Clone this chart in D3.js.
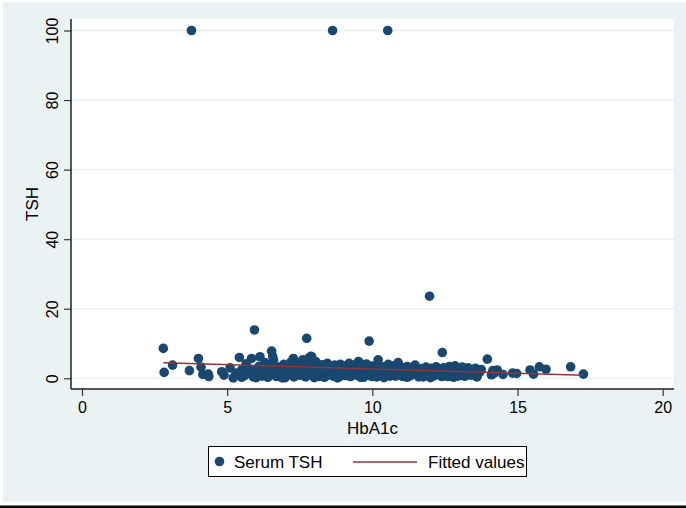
<!DOCTYPE html>
<html><head><meta charset="utf-8">
<script src="https://cdn.jsdelivr.net/npm/d3@7"></script>
<style>html,body{margin:0;padding:0;background:#fff;}svg{display:block;}</style>
</head><body>
<script>
// ---- data ----
const hba1c = [
 3.77,8.63,10.53,11.97,
 2.80,2.83,3.12,3.70,4.01,4.10,4.16,4.35,4.37,4.81,4.89,5.10,5.21,5.42,5.94,5.84,
 6.13,6.53,6.57,7.74,7.91,7.28,9.89,10.2,12.41,10.89,9.52,11.47,
 13.96,14.3,14.97,14.83,15.43,15.75,15.98,15.55,16.83,17.27,
 5.3,5.5,5.6,5.7,5.8,5.9,6.0,5.65,
 6.05,6.1,6.2,6.25,6.3,6.35,6.4,6.45,6.5,6.55,6.6,6.62,6.7,6.75,6.8,6.85,6.9,6.95,6.98,
 7.0,7.05,7.1,7.15,7.2,7.25,7.3,7.35,7.4,7.45,7.5,7.55,7.6,7.62,7.65,7.7,7.75,7.8,7.82,7.85,7.9,7.95,7.98,7.88,7.7,
 8.0,8.05,8.1,8.15,8.2,8.25,8.3,8.35,8.4,8.45,8.5,8.55,8.6,8.65,8.7,8.75,8.8,8.85,8.9,8.95,
 9.0,9.05,9.1,9.15,9.2,9.25,9.3,9.35,9.4,9.45,9.5,9.55,9.6,9.65,9.7,9.75,9.8,9.85,9.9,9.95,
 10.0,10.05,10.1,10.15,10.2,10.25,10.3,10.35,10.4,10.45,10.5,10.55,10.6,10.65,10.7,10.75,10.8,10.85,10.95,
 11.0,11.05,11.1,11.15,11.2,11.25,11.3,11.35,11.4,11.5,11.55,11.6,11.65,11.7,11.75,11.8,11.85,11.9,11.95,
 12.0,12.05,12.1,12.15,12.2,12.25,12.3,12.35,12.4,12.45,12.5,12.55,12.6,12.65,12.7,12.75,12.8,12.85,12.9,12.95,
 13.0,13.05,13.1,13.15,13.2,13.25,13.3,13.4,13.45,13.5,13.55,13.6,13.7,13.75,
 14.1,14.15,14.2,14.5,
 5.5,6.0,6.4,6.9,7.3,7.6,8.0,8.4,8.8,9.2,9.6,10.0,10.4,10.8,11.2,11.6,12.0,12.4,12.8,13.2,13.6,
 6.2,6.7,7.1,7.5,7.9,8.3,8.7,9.1,9.5,9.9,10.3,10.7,11.1,11.5,11.9,12.3,12.7,13.1,13.5
];
const tsh = [
 100,100,100,23.6,
 8.6,1.7,3.8,2.2,5.7,3.2,1.1,1.2,0.5,1.9,0.9,3.0,0.1,6.0,13.9,5.7,
 6.2,7.8,6.2,11.5,6.2,5.7,10.7,5.3,7.4,4.5,4.8,3.8,
 5.5,2.4,1.4,1.5,2.4,3.3,2.6,1.2,3.3,1.2,
 1.5,2.4,0.8,3.1,1.9,0.4,2.6,4.2,
 1.2,3.4,0.6,2.1,4.5,1.6,0.3,2.9,3.8,1.0,5.1,2.4,0.5,1.8,3.2,0.9,2.5,4.0,1.3,
 0.2,2.0,3.6,1.1,4.7,2.8,0.6,1.7,3.3,4.1,0.9,2.2,5.3,1.4,3.0,0.4,2.6,4.4,5.9,1.8,3.7,0.7,2.4,6.3,5.0,
 1.2,4.8,3.1,0.5,2.0,3.9,1.5,0.3,2.7,4.3,1.0,3.4,2.1,0.6,3.8,1.7,2.9,0.4,4.0,1.3,
 2.5,0.8,3.6,1.9,4.3,0.5,2.8,1.4,3.9,0.9,2.2,4.6,1.1,3.2,0.3,2.0,4.1,1.6,2.9,0.7,
 3.5,1.2,2.4,0.4,3.8,1.8,2.7,0.9,3.3,1.5,2.1,4.0,0.6,2.9,1.3,3.6,0.8,2.3,1.7,
 3.1,0.5,2.2,1.1,3.4,1.8,0.7,2.6,1.4,3.0,0.9,2.0,1.2,2.8,0.4,1.9,3.2,1.0,2.4,
 1.5,2.9,0.6,2.1,3.3,1.2,2.5,0.8,1.8,3.0,1.1,2.3,0.5,3.4,1.6,2.6,0.9,3.6,1.9,0.6,
 2.7,1.3,3.2,0.7,2.1,1.5,3.0,0.9,2.4,1.2,2.9,0.5,1.8,2.5,
 1.0,2.2,1.5,1.1,
 0.3,0.2,0.8,0.1,0.4,0.9,0.2,0.6,0.1,0.7,0.3,0.5,0.2,0.6,0.3,0.4,0.2,0.5,0.3,0.6,0.4,
 1.4,2.3,1.6,2.5,1.3,2.2,1.5,2.4,1.2,2.0,1.7,2.3,1.3,1.9,1.6,1.1,1.4,1.2,1.0
];
const fitX = [2.8, 17.27];
const fitY = [4.45, 0.9];
const xTicks = [0,5,10,15,20];
const yTicks = [0,20,40,60,80,100];
const seriesNames = ["Serum TSH","Fitted values"];

// ---- drawing ----
const W = 686, H = 508;
const navy = "#1a476f", maroon = "#90353b", bg = "#eaf2f3";
const font = "'Liberation Sans', Arial, sans-serif";
const svg = d3.select("body").append("svg").attr("width", W).attr("height", H);

svg.append("rect").attr("x",0).attr("y",0).attr("width",W).attr("height",H).attr("fill","#fff");
svg.append("rect").attr("x",3).attr("y",2).attr("width",W-3).attr("height",500).attr("fill",bg);
svg.append("rect").attr("x",0).attr("y",505.5).attr("width",W).attr("height",2.5).attr("fill","#000");

const pL = 71, pR = 674, pT = 19, pB = 389;
svg.append("rect").attr("x",pL).attr("y",pT).attr("width",pR-pL).attr("height",pB-pT).attr("fill","#fff");

const x = d3.scaleLinear().domain([0,20]).range([82, 662.7]);
const y = d3.scaleLinear().domain([0,100]).range([378.3, 30.5]);

// gridlines
svg.append("g").selectAll("line").data(yTicks).join("line")
  .attr("x1",pL).attr("x2",pR).attr("y1",d=>y(d)).attr("y2",d=>y(d))
  .attr("stroke",bg).attr("stroke-width",1.5);

// points
const pts = hba1c.map((v,i)=>[v,tsh[i]]);
svg.append("g").selectAll("circle").data(pts).join("circle")
  .attr("cx",d=>x(d[0])).attr("cy",d=>y(d[1])).attr("r",4.8).attr("fill",navy);

// fitted line
svg.append("path").datum(fitX.map((v,i)=>[v,fitY[i]]))
  .attr("d", d3.line().x(d=>x(d[0])).y(d=>y(d[1])))
  .attr("fill","none").attr("stroke",maroon).attr("stroke-width",1.5);

// axes
const ax = svg.append("g").attr("transform",`translate(0,${pB})`)
  .call(d3.axisBottom(x).tickValues(xTicks).tickSize(7).tickPadding(6).tickFormat(d3.format("d")));
const ay = svg.append("g").attr("transform",`translate(${pL},0)`)
  .call(d3.axisLeft(y).tickValues(yTicks).tickSize(7).tickPadding(5).tickFormat(d3.format("d")));
[ax,ay].forEach(g=>{
  g.select(".domain").remove();
  g.selectAll(".tick line").attr("stroke","#3a3a3a").attr("stroke-width",1.2);
  g.selectAll("text").attr("font-family",font).attr("font-size",16).attr("fill","#000");
});
ay.selectAll(".tick text").attr("transform","rotate(-90)").attr("text-anchor","middle")
  .attr("x",0).attr("y",-13).attr("dy",0);
svg.append("line").attr("x1",pL).attr("x2",pL).attr("y1",pT).attr("y2",pB).attr("stroke","#222").attr("stroke-width",1.5);
svg.append("line").attr("x1",pL).attr("x2",pR).attr("y1",pB).attr("y2",pB).attr("stroke","#222").attr("stroke-width",1.5);

// titles
svg.append("text").attr("x",(pL+pR)/2).attr("y",434).attr("text-anchor","middle")
  .attr("font-family",font).attr("font-size",17).text("HbA1c");
svg.append("text").attr("transform",`translate(38,${(pT+pB)/2}) rotate(-90)`).attr("text-anchor","middle")
  .attr("font-family",font).attr("font-size",17).text("TSH");

// legend
const lg = svg.append("g");
lg.append("rect").attr("x",208.5).attr("y",446.5).attr("width",318).attr("height",30)
  .attr("fill","#fff").attr("stroke","#000").attr("stroke-width",1);
lg.append("circle").attr("cx",219.5).attr("cy",461.5).attr("r",4.8).attr("fill",navy);
lg.append("text").attr("x",234).attr("y",467.5).attr("font-family",font).attr("font-size",17).text(seriesNames[0]);
lg.append("line").attr("x1",353).attr("x2",417).attr("y1",462).attr("y2",462).attr("stroke",maroon).attr("stroke-width",1.5);
lg.append("text").attr("x",428).attr("y",467.5).attr("font-family",font).attr("font-size",17).text(seriesNames[1]);
</script>
</body></html>
